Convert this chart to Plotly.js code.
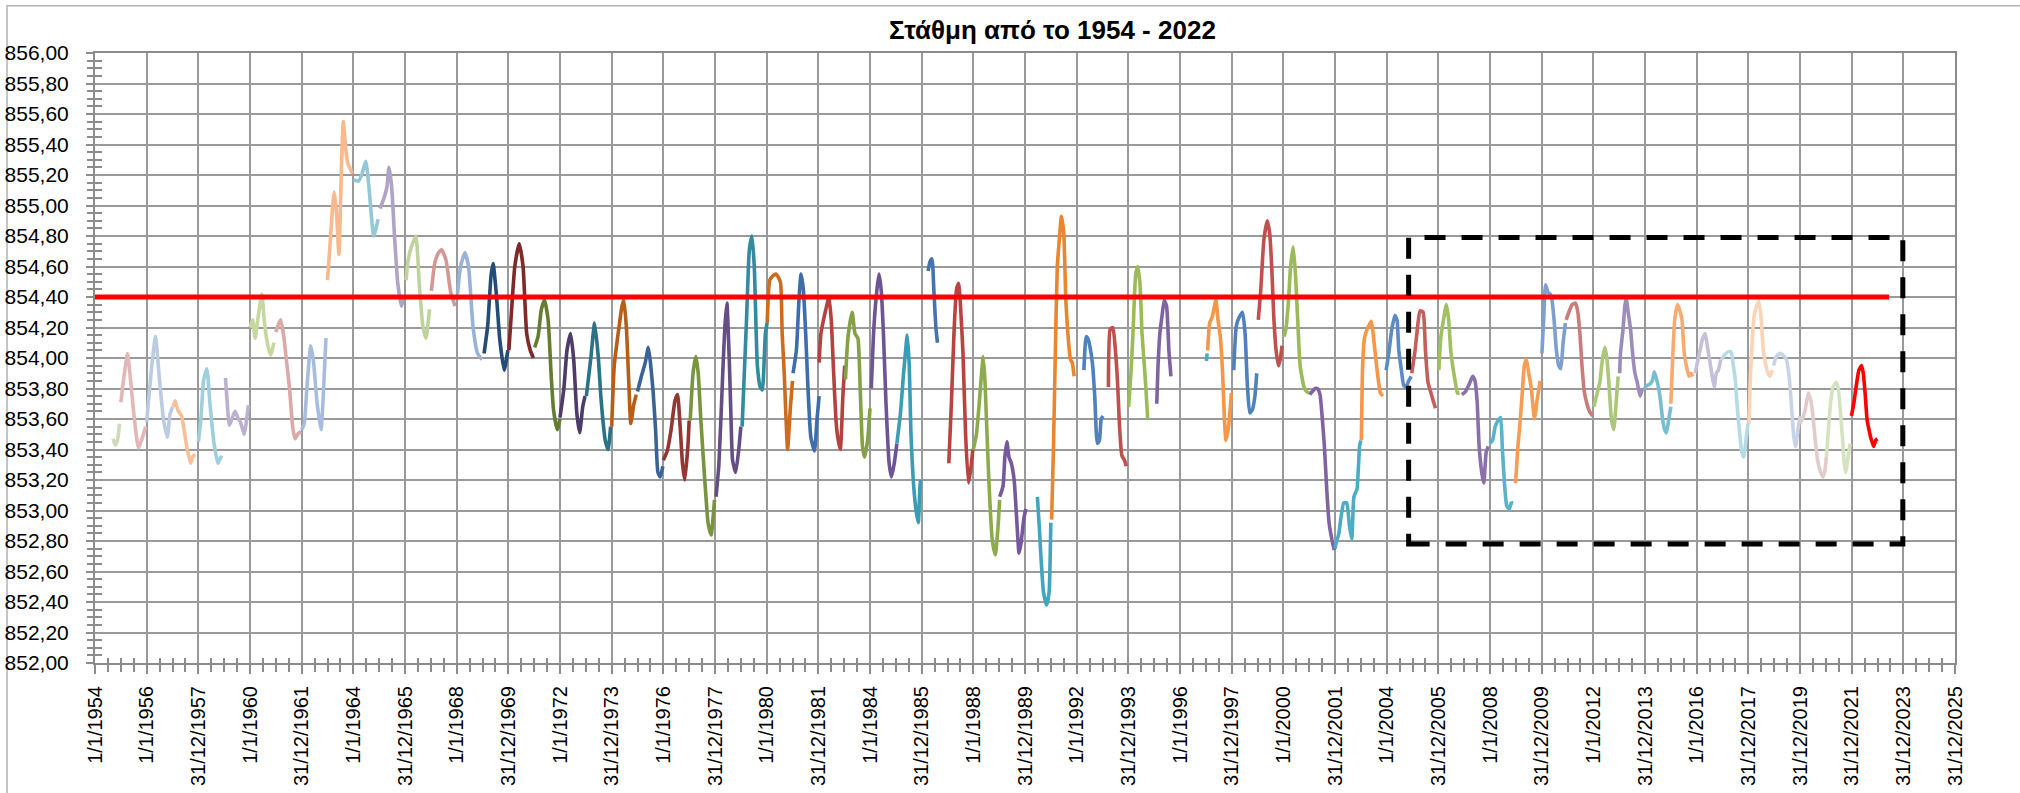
<!DOCTYPE html>
<html>
<head>
<meta charset="utf-8">
<script src="https://cdn.plot.ly/plotly-3.0.1.min.js"></script>
<style>html,body{margin:0;padding:0;background:#fff;}#chart{width:2020px;height:793px;}</style>
</head>
<body>
<div id="chart"></div>
<script>
// ---- x tick labels (every 2 years) ----
const xTickVals = [1954,1956,1958,1960,1962,1964,1966,1968,1970,1972,1974,1976,1978,1980,1982,1984,1986,1988,1990,1992,1994,1996,1998,2000,2002,2004,2006,2008,2010,2012,2014,2016,2018,2020,2022,2024,2026];
const xTickText = ['1/1/1954','1/1/1956','31/12/1957','1/1/1960','31/12/1961','1/1/1964','31/12/1965','1/1/1968','31/12/1969','1/1/1972','31/12/1973','1/1/1976','31/12/1977','1/1/1980','31/12/1981','1/1/1984','31/12/1985','1/1/1988','31/12/1989','1/1/1992','31/12/1993','1/1/1996','31/12/1997','1/1/2000','31/12/2001','1/1/2004','31/12/2005','1/1/2008','31/12/2009','1/1/2012','31/12/2013','1/1/2016','31/12/2017','31/12/2019','31/12/2021','31/12/2023','31/12/2025'];

// ---- reference level and highlighted window ----
const refLevel = 854.40;
const refStart = 1954.0, refEnd = 2023.45;
const boxX0 = 2004.85, boxX1 = 2023.98, boxY0 = 852.78, boxY1 = 854.79;

// ---- yearly level series (time in decimal years, level in m) ----
const t1954=[1954.70,1954.78,1954.87,1954.95], v1954=[853.47,853.43,853.46,853.57];
const t1955=[1955.0,1955.1,1955.26,1955.35,1955.5,1955.68,1955.8,1955.96], v1955=[853.71,853.85,854.03,853.9,853.64,853.41,853.46,853.55];
const t1956=[1956.0,1956.2,1956.34,1956.5,1956.65,1956.8,1956.9,1957.0], v1956=[853.58,853.95,854.14,853.85,853.6,853.48,853.63,853.68];
const t1957=[1957.02,1957.1,1957.2,1957.35,1957.55,1957.7,1957.8,1957.9], v1957=[853.68,853.72,853.66,853.62,853.42,853.31,853.36,853.36];
const t1958=[1958.0,1958.1,1958.2,1958.33,1958.45,1958.6,1958.76,1958.9], v1958=[853.45,853.6,853.85,853.93,853.7,853.45,853.31,853.36];
const t1959=[1959.05,1959.1,1959.2,1959.3,1959.42,1959.55,1959.63,1959.77,1959.94], v1959=[853.87,853.75,853.56,853.6,853.65,853.6,853.58,853.5,853.69];
const t1960=[1960.0,1960.1,1960.2,1960.3,1960.46,1960.55,1960.67,1960.79,1960.93], v1960=[854.2,854.25,854.13,854.25,854.42,854.25,854.1,854.02,854.1];
const t1961=[1961.0,1961.1,1961.19,1961.3,1961.4,1961.53,1961.65,1961.74,1961.85,1961.97], v1961=[854.17,854.22,854.25,854.15,854.0,853.8,853.55,853.47,853.5,853.52];
const t1962=[1962.0,1962.1,1962.2,1962.35,1962.45,1962.6,1962.75,1962.85,1962.94], v1962=[853.53,853.57,853.8,854.08,853.99,853.7,853.53,853.8,854.13];
const t1963=[1963.0,1963.1,1963.2,1963.26,1963.35,1963.44,1963.55,1963.61,1963.7,1963.78,1963.96], v1963=[854.51,854.75,855.0,855.09,854.95,854.68,855.3,855.55,855.38,855.28,855.21];
const t1964=[1964.0,1964.2,1964.34,1964.48,1964.6,1964.79,1964.96], v1964=[855.17,855.16,855.21,855.29,855.13,854.8,854.91];
const t1965=[1965.03,1965.17,1965.3,1965.38,1965.48,1965.6,1965.72,1965.86,1965.95], v1965=[854.98,855.04,855.12,855.25,855.13,854.78,854.49,854.34,854.41];
const t1966=[1966.04,1966.12,1966.25,1966.42,1966.55,1966.69,1966.81,1966.95], v1966=[854.51,854.64,854.73,854.8,854.49,854.21,854.13,854.32];
const t1967=[1967.02,1967.16,1967.3,1967.42,1967.59,1967.77,1967.94], v1967=[854.44,854.63,854.69,854.71,854.64,854.43,854.34];
const t1968=[1968.03,1968.15,1968.32,1968.46,1968.63,1968.81,1968.98], v1968=[854.42,854.6,854.69,854.6,854.21,854.03,853.99];
const t1969=[1969.06,1969.2,1969.33,1969.41,1969.53,1969.67,1969.84,1969.98], v1969=[854.03,854.21,854.54,854.62,854.43,854.12,853.92,854.05];
const t1970=[1970.02,1970.1,1970.25,1970.42,1970.57,1970.71,1970.85,1970.97], v1970=[854.05,854.25,854.6,854.75,854.6,854.16,854.05,854.0];
const t1971=[1971.02,1971.15,1971.28,1971.4,1971.54,1971.66,1971.75,1971.89,1972.0], v1971=[854.07,854.14,854.32,854.38,854.25,853.88,853.66,853.53,853.6];
const t1972=[1972.0,1972.15,1972.27,1972.41,1972.53,1972.65,1972.76,1972.88,1972.97], v1972=[853.61,853.8,854.05,854.16,853.99,853.64,853.51,853.68,853.75];
const t1973=[1973.02,1973.2,1973.34,1973.48,1973.58,1973.65,1973.75,1973.86,1973.96], v1973=[853.75,854.01,854.23,854.01,853.75,853.61,853.46,853.4,853.55];
const t1974=[1974.0,1974.1,1974.25,1974.4,1974.47,1974.57,1974.66,1974.74,1974.85,1974.95], v1974=[853.55,853.95,854.16,854.34,854.38,854.2,853.85,853.57,853.69,853.76];
const t1975=[1975.0,1975.15,1975.3,1975.42,1975.5,1975.6,1975.7,1975.79,1975.88,1975.98], v1975=[853.78,853.88,853.97,854.07,853.97,853.79,853.53,853.25,853.22,853.29];
const t1976=[1976.0,1976.15,1976.3,1976.45,1976.55,1976.65,1976.74,1976.83,1976.95,1977.0], v1976=[853.33,853.39,853.53,853.72,853.76,853.55,853.31,853.2,853.42,853.59];
const t1977=[1977.04,1977.15,1977.26,1977.35,1977.45,1977.56,1977.65,1977.73,1977.85,1977.98], v1977=[853.59,853.9,854.01,853.9,853.6,853.31,853.09,852.92,852.84,853.07];
const t1978=[1978.04,1978.15,1978.3,1978.38,1978.46,1978.55,1978.62,1978.68,1978.8,1978.92,1979.0], v1978=[853.09,853.3,853.9,854.2,854.36,854.0,853.6,853.33,853.25,853.4,853.55];
const t1979=[1979.05,1979.12,1979.22,1979.33,1979.43,1979.52,1979.64,1979.75,1979.83,1979.95,1980.02], v1979=[853.55,853.84,854.25,854.71,854.8,854.6,853.95,853.81,853.79,854.16,854.23];
const t1980=[1980.02,1980.12,1980.25,1980.36,1980.45,1980.54,1980.6,1980.68,1980.75,1980.81,1980.92,1981.0], v1980=[854.23,854.51,854.54,854.55,854.53,854.49,854.16,853.9,853.6,853.4,853.68,853.85];
const t1981=[1981.02,1981.15,1981.25,1981.33,1981.42,1981.51,1981.6,1981.71,1981.85,1981.95,1982.03], v1981=[853.9,854.05,854.38,854.55,854.45,854.16,853.8,853.48,853.39,853.6,853.75];
const t1982=[1982.03,1982.1,1982.2,1982.32,1982.41,1982.5,1982.58,1982.68,1982.75,1982.85,1982.95,1983.02], v1982=[853.97,854.16,854.25,854.34,854.4,854.25,853.95,853.6,853.48,853.4,853.75,853.95];
const t1983=[1983.05,1983.15,1983.31,1983.42,1983.53,1983.62,1983.71,1983.79,1983.9,1984.0], v1983=[853.86,854.14,854.3,854.16,854.13,853.8,853.42,853.35,853.45,853.67];
const t1984=[1984.05,1984.15,1984.27,1984.35,1984.44,1984.52,1984.62,1984.74,1984.83,1984.93,1985.04], v1984=[853.8,854.2,854.45,854.55,854.43,854.16,853.7,853.31,853.22,853.3,853.44];
const t1985=[1985.04,1985.18,1985.3,1985.38,1985.44,1985.52,1985.58,1985.7,1985.8,1985.87,1985.93,1985.96], v1985=[853.44,853.64,853.9,854.05,854.15,853.95,853.53,853.14,852.98,852.92,853.15,853.2];
const t1986=[1986.25,1986.32,1986.4,1986.47,1986.55,1986.61], v1986=[854.57,854.63,854.65,854.45,854.2,854.1];
const t1987=[1987.05,1987.15,1987.25,1987.35,1987.43,1987.5,1987.6,1987.7,1987.81,1987.9,1987.98], v1987=[853.31,853.7,854.16,854.45,854.49,854.35,854.03,853.5,853.18,853.27,853.4];
const t1988=[1988.0,1988.12,1988.25,1988.32,1988.38,1988.45,1988.5,1988.6,1988.73,1988.85,1988.95,1989.02], v1988=[853.4,853.5,853.75,853.9,854.01,853.85,853.63,853.2,852.81,852.71,852.88,853.07];
const t1989=[1989.02,1989.15,1989.22,1989.3,1989.38,1989.47,1989.58,1989.68,1989.77,1989.85,1989.95,1990.03], v1989=[853.09,853.16,853.35,853.45,853.35,853.31,853.2,852.94,852.72,852.79,852.94,853.01];
const t1990=[1990.48,1990.55,1990.63,1990.72,1990.84,1990.93,1991.0], v1990=[853.09,852.9,852.66,852.46,852.38,852.46,852.92];
const t1991=[1991.03,1991.1,1991.17,1991.25,1991.33,1991.41,1991.5,1991.58,1991.66,1991.76,1991.83,1991.9], v1991=[852.94,853.4,854.0,854.6,854.78,854.93,854.82,854.38,854.16,853.99,853.97,853.88];
const t1992=[1992.28,1992.37,1992.45,1992.54,1992.62,1992.7,1992.8,1992.88,1992.95,1993.02], v1992=[853.92,854.14,854.12,854.05,853.95,853.75,853.44,853.46,853.6,853.62];
const t1993=[1993.23,1993.3,1993.4,1993.5,1993.58,1993.66,1993.75,1993.85,1993.92], v1993=[853.81,854.19,854.2,854.05,853.85,853.55,853.36,853.33,853.29];
const t1994=[1994.01,1994.1,1994.18,1994.28,1994.36,1994.45,1994.53,1994.62,1994.68,1994.75], v1994=[853.68,853.9,854.16,854.54,854.6,854.49,854.16,853.95,853.8,853.6];
const t1995=[1995.1,1995.15,1995.22,1995.3,1995.39,1995.48,1995.57,1995.65], v1995=[853.7,853.95,854.16,854.27,854.38,854.34,854.05,853.88];
const t1997a=[1997.02,1997.05], v1997a=[853.98,854.03];
const t1997=[1997.07,1997.15,1997.25,1997.39,1997.47,1997.56,1997.65,1997.72,1997.78,1997.88,1997.99], v1997=[854.05,854.23,854.27,854.38,854.25,854.14,853.9,853.6,853.46,853.55,853.77];
const t1998=[1998.08,1998.18,1998.3,1998.42,1998.52,1998.6,1998.7,1998.8,1998.9,1998.97], v1998=[853.92,854.21,854.27,854.3,854.16,853.85,853.64,853.66,853.75,853.9];
const t1999=[1999.03,1999.12,1999.25,1999.38,1999.47,1999.55,1999.63,1999.72,1999.81,1999.88,1999.95], v1999=[854.25,854.43,854.78,854.9,854.82,854.6,854.27,854.05,853.95,853.99,854.08];
const t2000=[2000.03,2000.1,2000.2,2000.28,2000.38,2000.47,2000.55,2000.65,2000.8,2000.9,2001.0], v2000=[854.14,854.19,854.38,854.6,854.73,854.55,854.27,853.95,853.81,853.78,853.77];
const t2001=[2001.02,2001.12,2001.23,2001.32,2001.42,2001.5,2001.59,2001.68,2001.77,2001.88,2001.97], v2001=[853.76,853.78,853.8,853.8,853.76,853.62,853.42,853.14,852.92,852.81,852.74];
const t2002=[2002.0,2002.05,2002.15,2002.22,2002.34,2002.45,2002.56,2002.65,2002.73,2002.85,2002.95,2003.0], v2002=[852.75,852.79,852.85,852.94,853.05,853.05,852.9,852.81,853.09,853.14,853.42,853.46];
const t2003=[2003.02,2003.07,2003.15,2003.3,2003.41,2003.5,2003.59,2003.68,2003.76,2003.85], v2003=[853.46,853.95,854.14,854.21,854.24,854.12,853.98,853.85,853.77,853.75];
const t2004=[2003.98,2004.08,2004.2,2004.32,2004.4,2004.47,2004.57,2004.66,2004.75,2004.85,2004.95], v2004=[853.92,854.03,854.19,854.28,854.25,854.05,853.92,853.82,853.81,853.85,853.88];
const t2005=[2004.97,2005.1,2005.2,2005.29,2005.41,2005.5,2005.6,2005.7,2005.8,2005.89], v2005=[853.9,854.05,854.21,854.31,854.3,854.05,853.84,853.78,853.72,853.67];
const t2006=[2006.02,2006.1,2006.2,2006.31,2006.4,2006.48,2006.58,2006.66,2006.74,2006.82], v2006=[853.92,854.14,854.25,854.35,854.25,854.05,853.92,853.84,853.77,853.77];
const t2007=[2006.91,2007.05,2007.2,2007.33,2007.42,2007.5,2007.58,2007.68,2007.76,2007.85,2007.93], v2007=[853.76,853.78,853.83,853.88,853.85,853.72,853.42,853.25,853.18,853.38,853.42];
const t2008=[2007.98,2008.1,2008.2,2008.31,2008.41,2008.48,2008.56,2008.65,2008.75,2008.82,2008.9], v2008=[853.44,853.46,853.55,853.59,853.61,853.4,853.18,853.03,853.01,853.05,853.05];
const t2009=[2008.99,2009.08,2009.16,2009.24,2009.33,2009.41,2009.5,2009.6,2009.72,2009.82,2009.94], v2009=[853.18,853.42,853.57,853.75,853.95,853.99,853.9,853.8,853.6,853.72,853.85];
const t2010=[2010.01,2010.08,2010.15,2010.25,2010.33,2010.4,2010.48,2010.57,2010.66,2010.74,2010.83,2010.92], v2010=[854.03,854.27,854.48,854.43,854.42,854.38,854.25,854.05,853.95,853.93,854.1,854.23];
const t2011=[2010.95,2011.05,2011.18,2011.31,2011.4,2011.48,2011.56,2011.65,2011.75,2011.85,2011.97], v2011=[854.25,854.3,854.35,854.36,854.3,854.16,853.95,853.78,853.7,853.65,853.62];
const t2012=[2012.02,2012.12,2012.25,2012.35,2012.45,2012.53,2012.6,2012.7,2012.79,2012.88,2012.96], v2012=[853.68,853.75,853.84,853.99,854.07,853.99,853.84,853.6,853.53,853.7,853.88];
const t2013=[2013.02,2013.05,2013.15,2013.22,2013.27,2013.35,2013.44,2013.52,2013.61,2013.7,2013.81,2013.9], v2013=[853.9,854.03,854.19,854.34,854.39,854.3,854.19,854.03,853.9,853.84,853.75,853.8];
const t2014=[2013.98,2014.08,2014.2,2014.3,2014.36,2014.45,2014.53,2014.6,2014.68,2014.76,2014.83,2014.92,2015.0], v2014=[853.8,853.82,853.83,853.86,853.91,853.86,853.8,853.72,853.6,853.53,853.51,853.6,853.68];
const t2015=[2015.0,2015.06,2015.15,2015.26,2015.35,2015.43,2015.52,2015.6,2015.7,2015.78,2015.86], v2015=[853.7,853.95,854.25,854.35,854.31,854.25,854.03,853.95,853.88,853.9,853.88];
const t2016=[2015.94,2016.05,2016.13,2016.22,2016.33,2016.42,2016.5,2016.6,2016.68,2016.76,2016.84,2016.93], v2016=[853.9,853.99,854.05,854.12,854.16,854.07,853.99,853.88,853.81,853.9,853.92,853.99];
const t2017=[2016.97,2017.08,2017.22,2017.33,2017.42,2017.5,2017.56,2017.65,2017.75,2017.82,2017.92,2017.99], v2017=[853.99,854.02,854.04,854.04,853.95,853.85,853.7,853.53,853.38,853.35,853.48,853.57];
const t2018=[2018.02,2018.1,2018.22,2018.32,2018.41,2018.5,2018.58,2018.68,2018.76,2018.84,2018.93], v2018=[853.57,853.95,854.27,854.34,854.37,854.25,854.05,853.95,853.9,853.88,853.92];
const t2019=[2018.98,2019.08,2019.21,2019.33,2019.47,2019.55,2019.62,2019.69,2019.76,2019.83,2019.92,2020.0], v2019=[853.95,854.01,854.03,854.02,853.99,853.92,853.8,853.64,853.48,853.42,853.53,853.62];
const t2020=[2020.0,2020.12,2020.21,2020.32,2020.42,2020.5,2020.58,2020.68,2020.8,2020.89,2020.96,2021.02], v2020=[853.57,853.61,853.67,853.77,853.72,853.62,853.48,853.33,853.25,853.22,853.26,853.35];
const t2021=[2021.02,2021.1,2021.18,2021.28,2021.4,2021.48,2021.57,2021.65,2021.72,2021.77,2021.86,2021.94], v2021=[853.35,853.53,853.7,853.81,853.84,853.8,853.64,853.46,853.3,853.25,853.35,853.44];
const t2022=[2021.99,2022.08,2022.18,2022.28,2022.38,2022.45,2022.52,2022.6,2022.67,2022.75,2022.85,2022.93,2023.0], v2022=[853.62,853.7,853.82,853.92,853.95,853.9,853.77,853.59,853.53,853.47,853.42,853.46,853.47];

// ---- series list: [time, level, colour] ----
const seriesList = [
  [t1954,v1954,'#cddcb8'],[t1955,v1955,'#e2b8b7'],[t1956,v1956,'#bccbe4'],[t1957,v1957,'#f9bf98'],
  [t1958,v1958,'#9fcfdc'],[t1959,v1959,'#bcafd0'],[t1960,v1960,'#c4d8a0'],[t1961,v1961,'#dba9a8'],
  [t1962,v1962,'#a7bde0'],[t1963,v1963,'#f9b98c'],[t1964,v1964,'#93c8d9'],[t1965,v1965,'#b0a3c8'],
  [t1966,v1966,'#bed49c'],[t1967,v1967,'#d49794'],[t1968,v1968,'#98b2d8'],[t1969,v1969,'#254b79'],
  [t1970,v1970,'#7d2a28'],[t1971,v1971,'#647d31'],[t1972,v1972,'#4f3b6a'],[t1973,v1973,'#2a7386'],
  [t1974,v1974,'#b85d16'],[t1975,v1975,'#3a6497'],[t1976,v1976,'#943634'],[t1977,v1977,'#78943f'],
  [t1978,v1978,'#654d85'],[t1979,v1979,'#338ba1'],[t1980,v1980,'#cc6c1e'],[t1981,v1981,'#3d6eac'],
  [t1982,v1982,'#b5423f'],[t1983,v1983,'#84a147'],[t1984,v1984,'#6d5595'],[t1985,v1985,'#3a9cb5'],
  [t1986,v1986,'#4473b0'],[t1987,v1987,'#b9443f'],[t1988,v1988,'#8cab4c'],[t1989,v1989,'#75599c'],
  [t1990,v1990,'#41a5bf'],[t1991,v1991,'#e9862f'],[t1992,v1992,'#4f81bd'],[t1993,v1993,'#c0504d'],
  [t1994,v1994,'#9bbb59'],[t1995,v1995,'#8064a2'],[t1997a,v1997a,'#4bacc6'],[t1997,v1997,'#f79646'],
  [t1998,v1998,'#4f81bd'],[t1999,v1999,'#c0504d'],[t2000,v2000,'#9bbb59'],[t2001,v2001,'#8064a2'],
  [t2002,v2002,'#4bacc6'],[t2003,v2003,'#f79646'],[t2004,v2004,'#5b8ac4'],[t2005,v2005,'#c45e5b'],
  [t2006,v2006,'#a1c062'],[t2007,v2007,'#8a70ab'],[t2008,v2008,'#5ab3cb'],[t2009,v2009,'#f79c52'],
  [t2010,v2010,'#7d9fd0'],[t2011,v2011,'#c97d7b'],[t2012,v2012,'#abc77a'],[t2013,v2013,'#9b8cbd'],
  [t2014,v2014,'#78bdd1'],[t2015,v2015,'#f9aa70'],[t2016,v2016,'#c6bfd9'],[t2017,v2017,'#b5dbe5'],
  [t2018,v2018,'#fbd3b6'],[t2019,v2019,'#c9d3e8'],[t2020,v2020,'#e3cbcb'],[t2021,v2021,'#d5e2c0'],
  [t2022,v2022,'#ff0000']
];

const FONT = '"Liberation Sans", Arial, sans-serif';
const GRID = '#9a9a9a';

const traces = seriesList.map(s => ({
  type: 'scatter', mode: 'lines', x: s[0], y: s[1],
  line: {color: s[2], width: 3.6, shape: 'spline', smoothing: 0.5},
  hoverinfo: 'x+y', showlegend: false
}));
traces.push({
  type: 'scatter', mode: 'lines', x: [refStart, refEnd], y: [refLevel, refLevel],
  line: {color: '#ff0000', width: 5}, hoverinfo: 'y', showlegend: false
});

const layout = {
  width: 2020, height: 793,
  margin: {l: 95, r: 65, t: 53, b: 130, pad: 0},
  paper_bgcolor: '#ffffff', plot_bgcolor: '#ffffff',
  separators: ',.',
  font: {family: FONT, size: 20, color: '#000000'},
  title: {
    text: 'Στάθμη από το 1954 - 2022',
    font: {family: FONT, size: 26, color: '#000000', weight: 'bold'},
    x: 0.521, xanchor: 'center', y: 0.962, yanchor: 'middle'
  },
  xaxis: {
    range: [1954, 2026], autorange: false,
    tickmode: 'array', tickvals: xTickVals, ticktext: xTickText,
    tickangle: -90,
    showgrid: true, gridcolor: GRID, gridwidth: 2,
    zeroline: false, showline: true, mirror: true, linecolor: '#8c8c8c', linewidth: 2,
    ticks: 'outside', ticklen: 9, tickwidth: 2, tickcolor: '#8c8c8c',
    ticklabelstandoff: 4,
    tickfont: {family: FONT, size: 20, color: '#000000'},
    minor: {tickmode: 'linear', tick0: 1954, dtick: 0.5, ticks: 'outside', ticklen: 7, tickwidth: 2, tickcolor: '#8c8c8c', showgrid: false}
  },
  xaxis2: {
    overlaying: 'x', anchor: 'y', side: 'bottom',
    range: [1954, 2026], autorange: false,
    showgrid: false, zeroline: false, showline: false, showticklabels: false,
    tickmode: 'linear', tick0: 1954, dtick: 2, ticks: '',
    minor: {tickmode: 'linear', tick0: 1954, dtick: 0.5, ticks: 'inside', ticklen: 5, tickwidth: 2, tickcolor: '#8c8c8c', showgrid: false}
  },
  yaxis: {
    range: [852, 856], autorange: false,
    tickmode: 'linear', tick0: 852, dtick: 0.2, tickformat: '.2f',
    showgrid: true, gridcolor: GRID, gridwidth: 2,
    zeroline: false, showline: true, mirror: true, linecolor: '#8c8c8c', linewidth: 2,
    ticks: 'outside', ticklen: 7, tickwidth: 2, tickcolor: '#8c8c8c',
    ticklabelstandoff: 13,
    tickfont: {family: FONT, size: 21, color: '#000000'},
    minor: {tickmode: 'linear', tick0: 852, dtick: 0.05, ticks: 'outside', ticklen: 6, tickwidth: 2, tickcolor: '#8c8c8c', showgrid: false}
  },
  yaxis2: {
    overlaying: 'y', anchor: 'x', side: 'left',
    range: [852, 856], autorange: false,
    showgrid: false, zeroline: false, showline: false, showticklabels: false,
    tickmode: 'linear', tick0: 852, dtick: 0.2, ticks: '',
    minor: {tickmode: 'linear', tick0: 852, dtick: 0.05, ticks: 'inside', ticklen: 7, tickwidth: 2, tickcolor: '#8c8c8c', showgrid: false}
  },
  shapes: [
    {type: 'rect', xref: 'x', yref: 'y', x0: boxX0, x1: boxX1, y0: boxY0, y1: boxY1,
     line: {color: '#000000', width: 5, dash: '21px,16px'}, fillcolor: 'rgba(0,0,0,0)', layer: 'above'},
    {type: 'rect', xref: 'paper', yref: 'paper', x0: -0.0473, x1: 1.04, y0: -0.25, y1: 1.0775,
     line: {color: '#b3b3b3', width: 1.5}, fillcolor: 'rgba(0,0,0,0)', layer: 'below'}
  ]
};

// dummy trace so overlay axes render their minor ticks
traces.push({type: 'scatter', mode: 'lines', x: [1954], y: [852], xaxis: 'x2', yaxis: 'y2', hoverinfo: 'skip', showlegend: false, line: {width: 0}});

Plotly.newPlot('chart', traces, layout, {displayModeBar: false, responsive: false});
</script>
</body>
</html>
